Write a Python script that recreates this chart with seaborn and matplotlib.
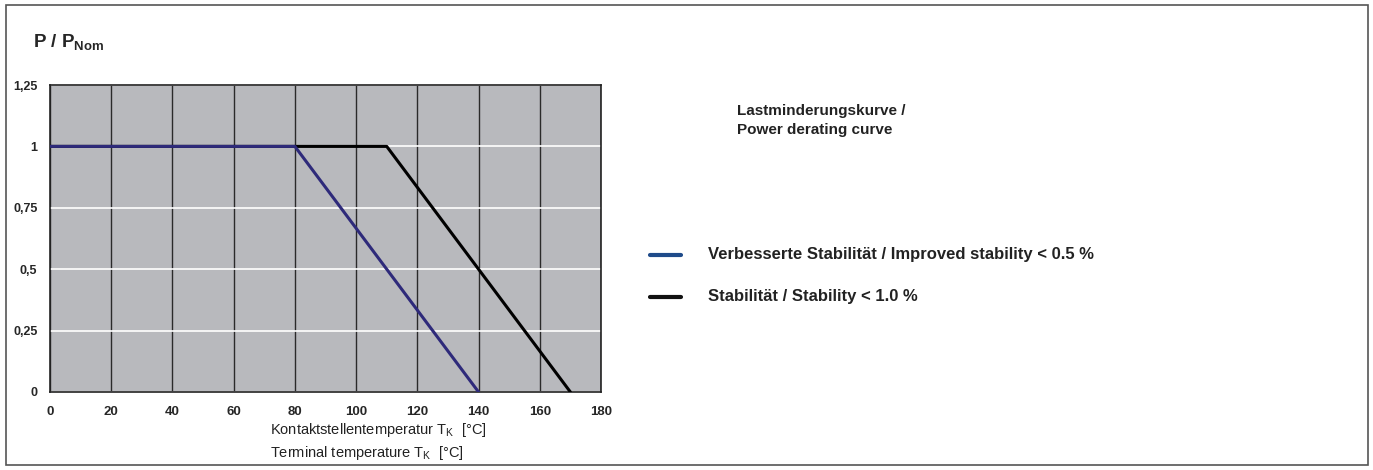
# Power derating curve
import matplotlib
matplotlib.use('Agg')
import matplotlib.pyplot as plt
import matplotlib.patches as patches
import pandas as pd
import seaborn as sns

# Data
temp_improved = [0, 80, 140]
power_improved = [1, 1, 0]
temp_standard = [0, 110, 170]
power_standard = [1, 1, 0]
series_names = ['Verbesserte Stabilität / Improved stability < 0.5 %',
                'Stabilität / Stability < 1.0 %']
x_ticks = [0, 20, 40, 60, 80, 100, 120, 140, 160, 180]
y_ticks = [0, 0.25, 0.5, 0.75, 1, 1.25]
y_tick_labels = ['0', '0,25', '0,5', '0,75', '1', '1,25']

df = pd.concat([
    pd.DataFrame({'T': temp_standard, 'P': power_standard, 'series': series_names[1]}),
    pd.DataFrame({'T': temp_improved, 'P': power_improved, 'series': series_names[0]}),
])

sns.set_style('white')
plt.rcParams['font.family'] = ['Liberation Sans', 'DejaVu Sans']
narrow = ['Liberation Sans Narrow', 'Liberation Sans', 'DejaVu Sans']

fig = plt.figure(figsize=(13.73, 4.70), dpi=100)
W, H = 1373, 470

# outer frame
fig.patches.append(patches.Rectangle((6 / W, 5 / H), 1362 / W, 460 / H, transform=fig.transFigure,
                                     fill=False, edgecolor='#555555', linewidth=1.2))

ax = fig.add_axes([50 / W, 1 - 392 / H, 551 / W, 307 / H])
ax.set_facecolor('#b8b9bd')

# black curve first so the blue one sits on top along the flat part
palette = {series_names[0]: '#2e2a7a', series_names[1]: '#000000'}
sns.lineplot(data=df, x='T', y='P', hue='series', hue_order=[series_names[1], series_names[0]],
             palette=palette, linewidth=2.2, legend=False, ax=ax, zorder=3)

ax.set_xlim(0, 180)
ax.set_ylim(0, 1.25)
ax.set_xticks(x_ticks)
ax.set_xticklabels([str(t) for t in x_ticks], fontweight='bold', fontsize=9.5, family=narrow)
ax.set_yticks(y_ticks)
ax.set_yticklabels(y_tick_labels, fontweight='bold', fontsize=9, family=narrow)
ax.tick_params(axis='both', direction='out', length=5, width=1, color='black', pad=4)
ax.tick_params(axis='x', length=4, pad=6)

ax.xaxis.grid(True, color='#2a2a2a', linewidth=1)
ax.yaxis.grid(True, color='white', linewidth=1.2)
ax.set_axisbelow(True)
for side in ['top', 'right', 'left', 'bottom']:
    ax.spines[side].set_color('#222222')
    ax.spines[side].set_linewidth(1.2)
ax.set_xlabel('')
ax.set_ylabel('')

# y axis title
fig.text(33 / W, 1 - 48 / H, r'P / P$_{\mathregular{Nom}}$', fontsize=13.5, fontweight='bold',
         ha='left', va='baseline')

# x axis titles
fig.text(270 / W, 1 - 434 / H, r'Kontaktstellentemperatur T$_{\mathregular{K}}$  [°C]', fontsize=10.5,
         ha='left', va='baseline', color='#222222')
fig.text(270 / W, 1 - 457 / H, r'Terminal temperature T$_{\mathregular{K}}$  [°C]', fontsize=10.5,
         ha='left', va='baseline', color='#222222')

# header text
fig.text(737 / W, 1 - 134 / H, 'Lastminderungskurve /\nPower derating curve', fontsize=11,
         fontweight='bold', ha='left', va='baseline', linespacing=1.5, color='#222222')

# legend drawn by hand
legend_y = [255, 297]
legend_colors = ['#1f4b8a', '#111111']
for name, ly, lc in zip(series_names, legend_y, legend_colors):
    fig.lines.append(plt.Line2D([650 / W, 681 / W], [1 - ly / H, 1 - ly / H], transform=fig.transFigure,
                                color=lc, linewidth=3))
    fig.text(708 / W, 1 - ly / H, name, fontsize=12, fontweight='bold', ha='left', va='center',
             color='#222222')

fig.savefig('out.png', dpi=100)
